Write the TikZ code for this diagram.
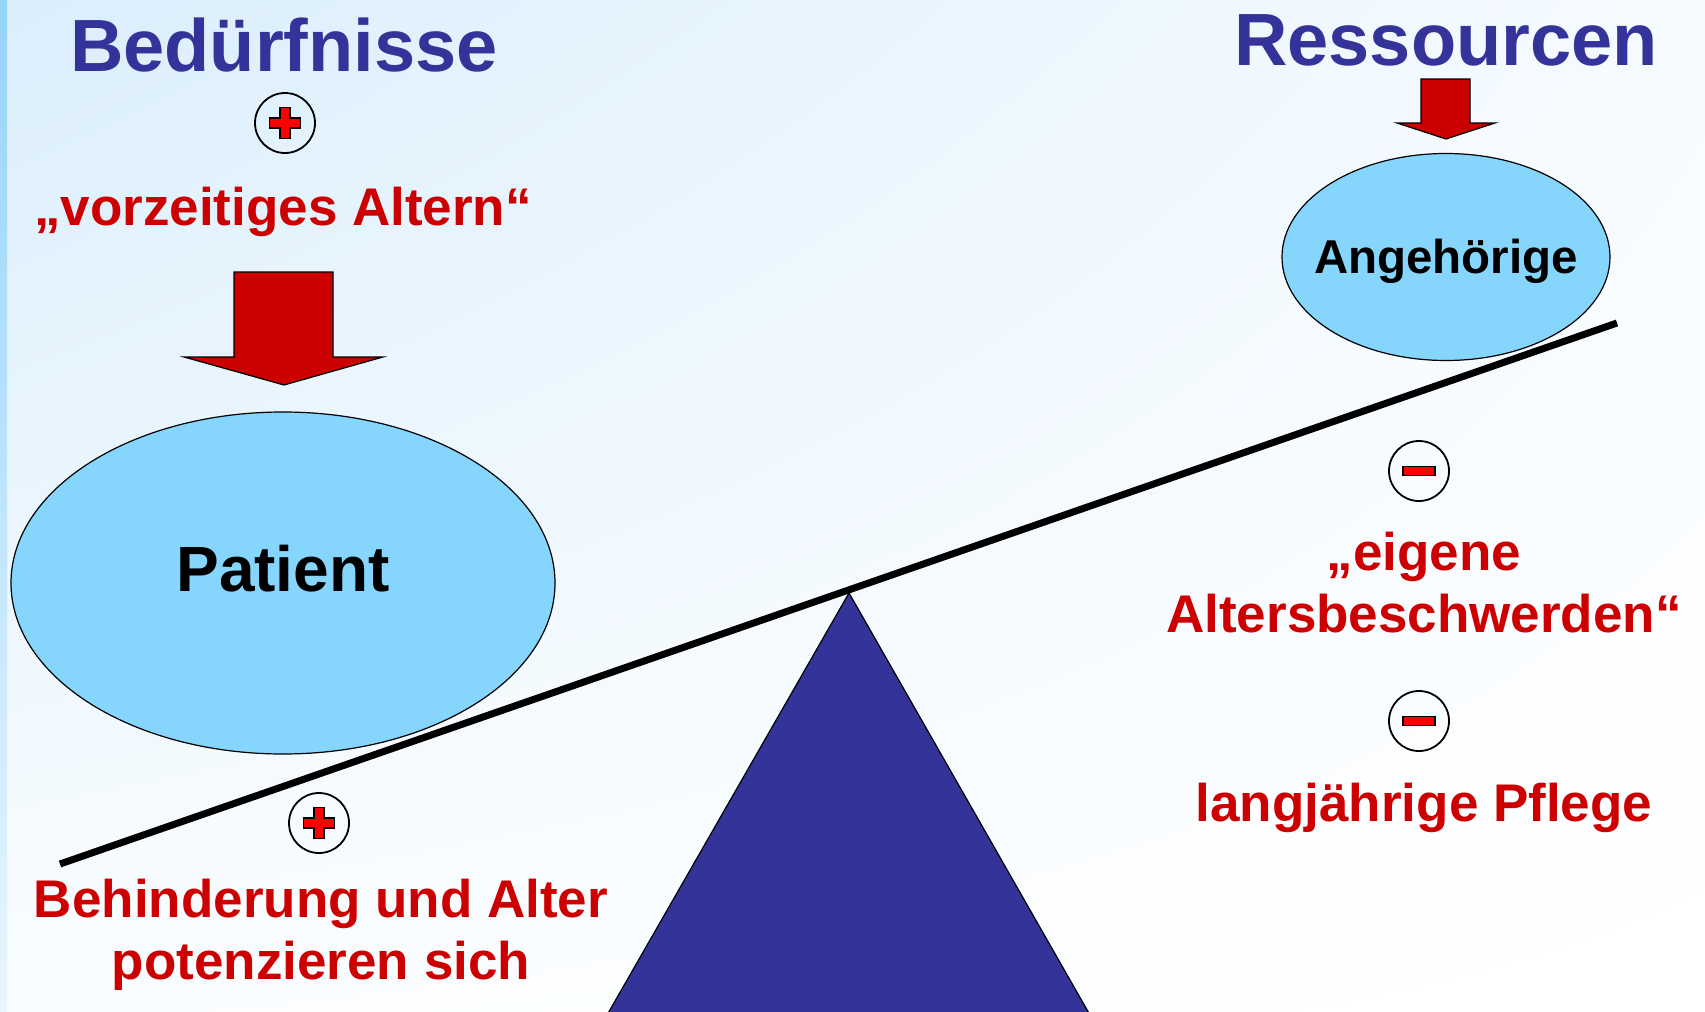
\documentclass[tikz,border=0pt]{standalone}
\usepackage{fontspec}
\setmainfont{Liberation Sans}
\usetikzlibrary{shapes.geometric,shadings}
\definecolor{titleblue}{RGB}{51,51,153}
\definecolor{textred}{RGB}{204,0,0}
\definecolor{bubbleblue}{RGB}{133,213,252}
\definecolor{signred}{RGB}{255,0,0}
\definecolor{bgblue}{RGB}{218,238,252}
\definecolor{bgright}{RGB}{246,251,255}
\definecolor{bgleft}{RGB}{250,253,255}
\definecolor{barblue}{RGB}{150,212,250}
\definecolor{barlow}{RGB}{232,245,254}

\begin{document}
\begin{tikzpicture}[x=0.5pt,y=-0.5pt,
  headline/.style={font=\fontsize{37}{44}\selectfont\bfseries,text=titleblue,anchor=base,inner sep=0pt},
  redtext/.style={font=\fontsize{26.5}{31}\selectfont\bfseries,text=textred,align=center,inner sep=0pt},
  bubble/.style={ellipse,draw,fill=bubbleblue,inner xsep=-20pt,inner ysep=0pt,line width=0.6pt},
  ring/.style={circle,draw,minimum size=30pt,inner sep=0pt,line width=0.9pt},
  signfill/.style={draw,fill=signred,line width=0.7pt},
  blockarrow/.style={draw,fill=textred,line width=0.6pt},
  plusmark/.pic={\draw[signfill] (-5,-15.5) -- ++(10,0) -- ++(0,10.5) -- ++(10.5,0) -- ++(0,10) -- ++(-10.5,0) -- ++(0,10.5) -- ++(-10,0) -- ++(0,-10.5) -- ++(-10.5,0) -- ++(0,-10) -- ++(10.5,0) -- cycle;},
  minusmark/.pic={\draw[signfill] (-16,-4.5) rectangle (16,4.5);}]

% background
\clip (0,0) rectangle (1705,1012);
\shade[upper left=bgblue,upper right=bgright,lower left=bgleft,lower right=white] (0,0) rectangle (1705,1012);
\shade[top color=barblue,bottom color=barlow] (0,0) rectangle (7,1012);

% scale
\draw[fill=titleblue,line width=0.6pt] (849,593) -- (1094,1022) -- (603,1022) -- cycle;
\draw[line width=3.5pt] (60,864) -- (1617,323);

% left side
\node[headline](1) at (284,71){Bedürfnisse};
\node[ring](2) at (285,123){};
\pic at (2) {plusmark};
\node[redtext,anchor=base](3) at (283,225){„vorzeitiges Altern“};
\draw[blockarrow] (234,272) -- (333,272) -- (333,357) -- (383,357) -- (284,385) -- (184,357) -- (234,357) -- cycle;
\node[bubble,minimum width=272pt,minimum height=171pt,font=\fontsize{32}{38}\selectfont\bfseries,text depth=15pt](4) at (283,583){Patient};
\node[ring](5) at (319,823){};
\pic at (5) {plusmark};
\node[redtext](6) at (321,935){Behinderung und Alter\\potenzieren sich};

% right side
\node[headline](7) at (1446,65){Ressourcen};
\draw[blockarrow] (1421,79) -- (1470,79) -- (1470,123) -- (1495,123) -- (1446,139) -- (1397,123) -- (1421,123) -- cycle;
\node[bubble,minimum width=164pt,minimum height=103.5pt,font=\fontsize{23.75}{28}\selectfont\bfseries,text height=22pt](8) at (1446,257){Angehörige};
\node[ring](9) at (1419,471){};
\pic at (9) {minusmark};
\node[redtext](10) at (1424,583){„eigene\\Altersbeschwerden“};
\node[ring](11) at (1419,721){};
\pic at (11) {minusmark};
\node[redtext,anchor=base](12) at (1424,821){langjährige Pflege};

\end{tikzpicture}
\end{document}
